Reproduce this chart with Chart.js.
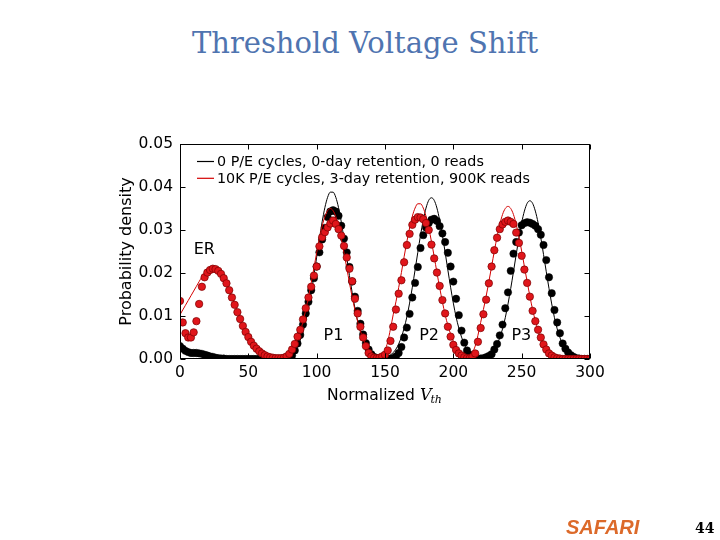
<!DOCTYPE html>
<html>
<head>
<meta charset="utf-8">
<title>Threshold Voltage Shift</title>
<script src="https://cdn.jsdelivr.net/npm/chart.js@4.4.1/dist/chart.umd.min.js"></script>
<style>
  html, body { margin: 0; padding: 0; background: #fff; }
  body { position: relative; width: 720px; height: 540px; overflow: hidden; }
  #chart { position: absolute; left: 0; top: 0; }
  #title {
    position: absolute; left: 0; top: 29px; width: 730px; margin: 0;
    text-align: center; font: normal 29px/29px 'DejaVu Serif', serif; color: #4f74b0;
  }
  #brand {
    position: absolute; left: 566px; top: 517px;
    font: italic bold 20px/20px 'Liberation Sans', sans-serif; color: #dc6a2a;
  }
  #page {
    position: absolute; left: 695px; top: 521px;
    font: bold 14px/14px 'DejaVu Serif', serif; color: #000;
  }
</style>
</head>
<body>
<h1 id="title">Threshold Voltage Shift</h1>
<canvas id="chart" width="720" height="540"></canvas>
<div id="brand">SAFARI</div>
<div id="page">44</div>
<script>
// Normalized Vth sample points (x axis)
const vth = [
    0, 2, 4, 6, 8, 10, 12, 14, 16, 18,
    20, 22, 24, 26, 28, 30, 32, 34, 36, 38,
    40, 42, 44, 46, 48, 50, 52, 54, 56, 58,
    60, 62, 64, 66, 68, 70, 72, 74, 76, 78,
    80, 82, 84, 86, 88, 90, 92, 94, 96, 98,
    100, 102, 104, 106, 108, 110, 112, 114, 116, 118,
    120, 122, 124, 126, 128, 130, 132, 134, 136, 138,
    140, 142, 144, 146, 148, 150, 152, 154, 156, 158,
    160, 162, 164, 166, 168, 170, 172, 174, 176, 178,
    180, 182, 184, 186, 188, 190, 192, 194, 196, 198,
    200, 202, 204, 206, 208, 210, 212, 214, 216, 218,
    220, 222, 224, 226, 228, 230, 232, 234, 236, 238,
    240, 242, 244, 246, 248, 250, 252, 254, 256, 258,
    260, 262, 264, 266, 268, 270, 272, 274, 276, 278,
    280, 282, 284, 286, 288, 290, 292, 294, 296, 298,
    300
];

// 0 P/E cycles, 0-day retention, 0 reads: measured (dots)
const blackDots = [
    0.0030, 0.0024, 0.0019, 0.0016, 0.0014, 0.0014, 0.0014, 0.0013, 0.0012, 0.0010,
    0.0008, 0.0006, 0.0005, 0.0003, 0.0002, 0.0001, 0.0001, 0, 0, 0,
    0, 0, 0, 0, 0, 0, 0, 0, 0, 0,
    0, 0, 0, 0, 0, 0, 0, 0, 0, 0.0001,
    0.0002, 0.0008, 0.0020, 0.0036, 0.0056, 0.0080, 0.0106, 0.0133, 0.0160, 0.0188,
    0.0215, 0.0248, 0.0278, 0.0305, 0.0330, 0.0343, 0.0346, 0.0343, 0.0333, 0.0310,
    0.0280, 0.0248, 0.0214, 0.0180, 0.0145, 0.0112, 0.0082, 0.0057, 0.0037, 0.0022,
    0.0011, 0.0005, 0.0002, 0.0001, 0, 0, 0, 0.0001, 0.0002, 0.0006,
    0.0014, 0.0028, 0.0050, 0.0073, 0.0105, 0.0143, 0.0177, 0.0214, 0.0258, 0.0288,
    0.0306, 0.0316, 0.0324, 0.0326, 0.0321, 0.0309, 0.0292, 0.0272, 0.0247, 0.0215,
    0.0180, 0.0140, 0.0102, 0.0066, 0.0038, 0.0020, 0.0010, 0.0004, 0.0002, 0.0001,
    0.0001, 0.0002, 0.0004, 0.0007, 0.0011, 0.0022, 0.0035, 0.0055, 0.0080, 0.0118,
    0.0155, 0.0205, 0.0245, 0.0272, 0.0294, 0.0311, 0.0316, 0.0318, 0.0317, 0.0314,
    0.0310, 0.0302, 0.0289, 0.0265, 0.0230, 0.0190, 0.0153, 0.0114, 0.0085, 0.0060,
    0.0036, 0.0024, 0.0015, 0.0009, 0.0005, 0.0002, 0.0001, 0, 0, 0,
    0
];

// 0 P/E cycles, 0-day retention, 0 reads: fitted curve (thin line)
const blackFit = [
    0.0040, 0.0033, 0.0027, 0.0022, 0.0018, 0.0015, 0.0013, 0.0011, 0.0010, 0.0009,
    0.0008, 0.0006, 0.0005, 0.0004, 0.0003, 0.0002, 0.0001, 0, 0, 0,
    0, 0, 0, 0, 0, 0, 0, 0, 0, 0,
    0, 0, 0, 0, 0, 0, 0, 0.0001, 0.0002, 0.0004,
    0.0007, 0.0012, 0.0019, 0.0029, 0.0044, 0.0063, 0.0088, 0.0118, 0.0154, 0.0194,
    0.0237, 0.0279, 0.0319, 0.0352, 0.0376, 0.0388, 0.0388, 0.0376, 0.0352, 0.0319,
    0.0279, 0.0237, 0.0194, 0.0154, 0.0118, 0.0088, 0.0063, 0.0044, 0.0029, 0.0019,
    0.0012, 0.0007, 0.0004, 0.0003, 0.0003, 0.0003, 0.0005, 0.0009, 0.0015, 0.0023,
    0.0035, 0.0051, 0.0072, 0.0098, 0.0130, 0.0167, 0.0207, 0.0248, 0.0288, 0.0323,
    0.0351, 0.0369, 0.0375, 0.0369, 0.0351, 0.0323, 0.0288, 0.0248, 0.0207, 0.0167,
    0.0130, 0.0098, 0.0072, 0.0051, 0.0035, 0.0023, 0.0015, 0.0009, 0.0005, 0.0004,
    0.0004, 0.0004, 0.0005, 0.0009, 0.0014, 0.0023, 0.0034, 0.0050, 0.0070, 0.0096,
    0.0128, 0.0164, 0.0203, 0.0243, 0.0282, 0.0317, 0.0344, 0.0362, 0.0368, 0.0362,
    0.0344, 0.0317, 0.0282, 0.0243, 0.0203, 0.0164, 0.0128, 0.0096, 0.0070, 0.0050,
    0.0034, 0.0023, 0.0014, 0.0009, 0.0005, 0.0003, 0.0002, 0.0001, 0, 0,
    0
];

// 10K P/E cycles, 3-day retention, 900K reads: measured (dots)
const redDots = [
    0.0135, 0.0085, 0.0060, 0.0050, 0.0050, 0.0062, 0.0088, 0.0128, 0.0168, 0.0190,
    0.0201, 0.0207, 0.0210, 0.0209, 0.0205, 0.0198, 0.0188, 0.0176, 0.0160, 0.0143,
    0.0126, 0.0109, 0.0093, 0.0077, 0.0063, 0.0051, 0.0040, 0.0031, 0.0024, 0.0018,
    0.0013, 0.0009, 0.0006, 0.0004, 0.0003, 0.0002, 0.0002, 0.0002, 0.0003, 0.0006,
    0.0012, 0.0022, 0.0035, 0.0052, 0.0068, 0.0092, 0.0118, 0.0143, 0.0168, 0.0194,
    0.0215, 0.0262, 0.0283, 0.0295, 0.0306, 0.0315, 0.0322, 0.0314, 0.0302, 0.0287,
    0.0263, 0.0236, 0.0210, 0.0181, 0.0140, 0.0106, 0.0075, 0.0050, 0.0030, 0.0014,
    0.0006, 0.0003, 0.0002, 0.0003, 0.0006, 0.0010, 0.0020, 0.0042, 0.0075, 0.0115,
    0.0152, 0.0183, 0.0225, 0.0265, 0.0291, 0.0312, 0.0324, 0.0330, 0.0329, 0.0325,
    0.0316, 0.0300, 0.0266, 0.0234, 0.0201, 0.0170, 0.0137, 0.0106, 0.0075, 0.0052,
    0.0033, 0.0021, 0.0013, 0.0008, 0.0004, 0.0002, 0.0002, 0.0005, 0.0013, 0.0040,
    0.0072, 0.0104, 0.0138, 0.0176, 0.0215, 0.0253, 0.0282, 0.0302, 0.0313, 0.0319,
    0.0322, 0.0319, 0.0314, 0.0294, 0.0270, 0.0240, 0.0208, 0.0177, 0.0145, 0.0112,
    0.0088, 0.0068, 0.0050, 0.0034, 0.0022, 0.0013, 0.0008, 0.0004, 0.0002, 0.0001,
    0, 0, 0, 0, 0, 0, 0, 0, 0, 0,
    0
];

// 10K P/E cycles, 3-day retention, 900K reads: fitted curve (thin line)
const redFit = [
    0.0103, 0.0114, 0.0125, 0.0136, 0.0147, 0.0158, 0.0169, 0.0180, 0.0191, 0.0200,
    0.0207, 0.0211, 0.0212, 0.0210, 0.0205, 0.0198, 0.0189, 0.0177, 0.0162, 0.0145,
    0.0127, 0.0110, 0.0093, 0.0078, 0.0064, 0.0051, 0.0040, 0.0031, 0.0023, 0.0017,
    0.0012, 0.0008, 0.0005, 0.0003, 0.0002, 0.0002, 0.0004, 0.0005, 0.0006, 0.0010,
    0.0015, 0.0023, 0.0033, 0.0047, 0.0065, 0.0087, 0.0114, 0.0144, 0.0177, 0.0212,
    0.0247, 0.0280, 0.0309, 0.0331, 0.0345, 0.0350, 0.0345, 0.0331, 0.0309, 0.0280,
    0.0247, 0.0212, 0.0177, 0.0144, 0.0114, 0.0087, 0.0065, 0.0047, 0.0033, 0.0020,
    0.0011, 0.0006, 0.0004, 0.0004, 0.0009, 0.0020, 0.0040, 0.0070, 0.0103, 0.0133,
    0.0166, 0.0201, 0.0238, 0.0273, 0.0305, 0.0332, 0.0351, 0.0361, 0.0361, 0.0351,
    0.0332, 0.0305, 0.0273, 0.0238, 0.0201, 0.0166, 0.0133, 0.0103, 0.0078, 0.0058,
    0.0041, 0.0029, 0.0016, 0.0009, 0.0006, 0.0006, 0.0008, 0.0016, 0.0030, 0.0055,
    0.0085, 0.0115, 0.0146, 0.0180, 0.0215, 0.0251, 0.0284, 0.0313, 0.0336, 0.0350,
    0.0355, 0.0350, 0.0336, 0.0313, 0.0284, 0.0251, 0.0215, 0.0180, 0.0146, 0.0115,
    0.0089, 0.0066, 0.0048, 0.0034, 0.0023, 0.0016, 0.0010, 0.0006, 0.0004, 0.0002,
    0.0001, 0, 0, 0, 0, 0, 0, 0, 0, 0,
    0
];

// Legend texts
const seriesLabels = [
    '0 P/E cycles, 0-day retention, 0 reads',
    '10K P/E cycles, 3-day retention, 900K reads'
];

// Tick values
const xTickValues = [0, 50, 100, 150, 200, 250, 300];
const yTickValues = [0, 0.01, 0.02, 0.03, 0.04, 0.05];

// State names and where they sit (data units, text baseline)
const stateNames = ['ER', 'P1', 'P2', 'P3'];
const stateX = [10, 105, 175, 242.5];
const stateY = [0.0245, 0.0044, 0.0044, 0.0044];

const FONT = 'DejaVu Sans';
const RED = '#e0161b';
const RED_LINE = '#d40000';

// Turn a value list into {x, y} points along vth
function toPoints(values) {
    return vth.map((v, i) => ({ x: v, y: values[i] }));
}

// Frame, inward ticks, legend, axis titles and state labels (matplotlib look)
const decorations = {
    id: 'decorations',
    afterDatasetsDraw(chart) {
        const { ctx, chartArea: a, scales: { x, y } } = chart;
        const L = Math.round(a.left) + 0.5, R = Math.round(a.right) - 0.5;
        const T = Math.round(a.top) + 0.5, B = Math.round(a.bottom) - 0.5;
        ctx.save();

        // frame
        ctx.strokeStyle = '#000';
        ctx.lineWidth = 1;
        ctx.strokeRect(L, T, R - L, B - T);

        // inward tick marks on all four sides
        ctx.beginPath();
        xTickValues.forEach(v => {
            const px = Math.round(x.getPixelForValue(v)) + 0.5;
            ctx.moveTo(px, B); ctx.lineTo(px, B - 5);
            ctx.moveTo(px, T); ctx.lineTo(px, T + 5);
        });
        yTickValues.forEach(v => {
            const py = Math.round(y.getPixelForValue(v)) + 0.5;
            ctx.moveTo(L, py); ctx.lineTo(L + 5, py);
            ctx.moveTo(R, py); ctx.lineTo(R - 5, py);
        });
        ctx.stroke();

        // state labels
        ctx.fillStyle = '#000';
        ctx.font = '16px "' + FONT + '"';
        ctx.textBaseline = 'alphabetic';
        ctx.textAlign = 'left';
        stateNames.forEach((name, i) => {
            ctx.fillText(name, x.getPixelForValue(stateX[i]), y.getPixelForValue(stateY[i]));
        });

        // legend (no frame), line samples taken from the fit datasets
        ctx.font = '14.3px "' + FONT + '"';
        ctx.textBaseline = 'middle';
        const fits = [chart.data.datasets[3], chart.data.datasets[1]];
        seriesLabels.forEach((label, i) => {
            const ly = a.top + 17.5 + i * 16.8;
            ctx.strokeStyle = fits[i].borderColor;
            ctx.lineWidth = 1.2;
            ctx.beginPath();
            ctx.moveTo(a.left + 17, ly);
            ctx.lineTo(a.left + 34, ly);
            ctx.stroke();
            ctx.fillStyle = '#000';
            ctx.fillText(label, a.left + 37, ly + 0.5);
        });
        ctx.restore();
    },
    afterDraw(chart) {
        const { ctx, chartArea: a } = chart;
        ctx.save();
        ctx.fillStyle = '#000';
        ctx.textBaseline = 'alphabetic';

        // y axis title
        ctx.font = '16px "' + FONT + '"';
        ctx.textAlign = 'center';
        ctx.translate(131, (a.top + a.bottom) / 2);
        ctx.rotate(-Math.PI / 2);
        ctx.fillText('Probability density', 0, 0);
        ctx.setTransform(1, 0, 0, 1, 0, 0);

        // x axis title: "Normalized V_th" with math italic V
        ctx.textAlign = 'left';
        const base = 400;
        const f1 = '15.5px "' + FONT + '"';
        const f2 = 'italic 16px "DejaVu Serif"';
        const f3 = 'italic 11px "DejaVu Serif"';
        ctx.font = f1; const w1 = ctx.measureText('Normalized ').width;
        ctx.font = f2; const w2 = ctx.measureText('V').width;
        ctx.font = f3; const w3 = ctx.measureText('th').width;
        let sx = (a.left + a.right) / 2 - (w1 + w2 + w3) / 2;
        ctx.font = f1; ctx.fillText('Normalized ', sx, base); sx += w1;
        ctx.font = f2; ctx.fillText('V', sx, base); sx += w2;
        ctx.font = f3; ctx.fillText('th', sx - 1, base + 3);
        ctx.restore();
    }
};

const ctx = document.getElementById('chart').getContext('2d');

new Chart(ctx, {
    type: 'scatter',
    data: {
        datasets: [
            {
                label: seriesLabels[1],
                data: toPoints(redDots),
                showLine: false,
                pointRadius: 3.7,
                pointBackgroundColor: RED,
                pointBorderColor: '#7a0000',
                pointBorderWidth: 0.7,
                clip: 0,
                order: 1
            },
            {
                label: seriesLabels[1] + ' (fit)',
                data: toPoints(redFit),
                showLine: true,
                pointRadius: 0,
                borderColor: RED_LINE,
                borderWidth: 1,
                cubicInterpolationMode: 'monotone',
                clip: 0,
                order: 2
            },
            {
                label: seriesLabels[0],
                data: toPoints(blackDots),
                showLine: false,
                pointRadius: 3.7,
                pointBackgroundColor: '#000',
                pointBorderColor: '#000',
                pointBorderWidth: 0.5,
                clip: 0,
                order: 3
            },
            {
                label: seriesLabels[0] + ' (fit)',
                data: toPoints(blackFit),
                showLine: true,
                pointRadius: 0,
                borderColor: '#000',
                borderWidth: 1,
                cubicInterpolationMode: 'monotone',
                clip: 0,
                order: 4
            }
        ]
    },
    options: {
        responsive: false,
        animation: false,
        devicePixelRatio: 1,
        layout: { padding: { left: 120, right: 130, top: 144, bottom: 141 } },
        plugins: {
            legend: { display: false },
            tooltip: { enabled: false },
            title: { display: false }
        },
        scales: {
            x: {
                type: 'linear',
                min: 0,
                max: 300,
                grid: { display: false, drawTicks: false },
                border: { display: false },
                afterBuildTicks: scale => { scale.ticks = xTickValues.map(v => ({ value: v })); },
                afterFit: scale => { scale.height = 40; },
                ticks: {
                    color: '#000',
                    padding: 5,
                    maxRotation: 0,
                    font: { family: FONT, size: 15.5 }
                }
            },
            y: {
                type: 'linear',
                min: 0,
                max: 0.05,
                grid: { display: false, drawTicks: false },
                border: { display: false },
                afterBuildTicks: scale => { scale.ticks = yTickValues.map(v => ({ value: v })); },
                afterFit: scale => { scale.width = 60; },
                ticks: {
                    color: '#000',
                    padding: 7,
                    font: { family: FONT, size: 15.5 },
                    callback: value => value.toFixed(2)
                }
            }
        }
    },
    plugins: [decorations]
});
</script>
</body>
</html>
